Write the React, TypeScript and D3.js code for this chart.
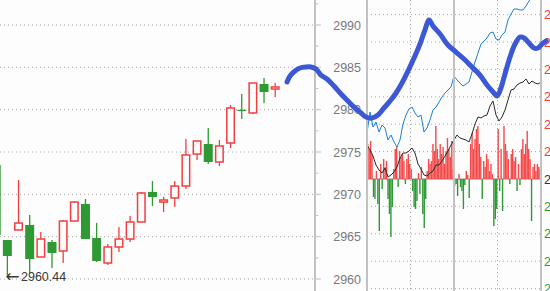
import React from "react";
import * as d3 from "d3";

// ---------- Left: daily candles ----------
const opens = [2973.46, 2964.61, 2965.79, 2966.38, 2962.6, 2964.37, 2963.31, 2966.85, 2968.86, 2964.84, 2961.89, 2963.78, 2964.72, 2966.73, 2970.28, 2969.09, 2969.57, 2970.98, 2974.76, 2975.94, 2973.82, 2976.06, 2979.98, 2979.61, 2983.03, 2982.44];
const highs = [2973.46, 2964.61, 2971.69, 2967.56, 2965.55, 2964.61, 2966.97, 2969.21, 2969.45, 2966.61, 2964.13, 2966.14, 2967.44, 2970.28, 2971.57, 2969.68, 2971.57, 2976.53, 2976.3, 2977.83, 2976.42, 2980.55, 2981.85, 2983.15, 2983.74, 2983.15];
const lows = [2965.2, 2960.44, 2965.79, 2960.71, 2962.6, 2961.3, 2961.89, 2966.85, 2964.72, 2962.01, 2961.65, 2963.19, 2964.37, 2966.73, 2968.62, 2967.91, 2968.5, 2970.63, 2974.05, 2973.58, 2973.35, 2975.47, 2978.9, 2979.49, 2980.79, 2981.49];
const closes = [2965.2, 2962.72, 2966.61, 2962.36, 2964.72, 2963.07, 2966.85, 2969.09, 2964.72, 2962.13, 2963.78, 2964.72, 2966.73, 2970.16, 2969.68, 2969.33, 2970.98, 2974.65, 2976.3, 2973.82, 2975.71, 2980.2, 2979.95, 2983.15, 2982.09, 2982.68];
const priceTicks = [2960, 2965, 2970, 2975, 2980, 2985, 2990];
const lowArrow = "←";
const lowValue = "2960.44";

// ---------- Thick blue projection line (candle index, price) ----------
const projIdx = [26.06, 26.33, 26.77, 27.22, 27.76, 28.21, 28.66, 29.1, 29.64, 30.27, 30.9, 31.52, 32.15, 32.69, 33.14, 33.67, 34.21, 34.75, 35.29, 35.83, 36.36, 36.9, 37.44, 37.97, 38.42, 38.78, 39.14, 39.77, 40.48, 41.2, 41.92, 42.63, 43.35, 43.98, 44.52, 44.88, 45.23, 45.59, 46.04, 46.49, 46.94, 47.3, 47.74, 48.19, 48.55, 48.91, 49.27];
const projPrice = [2983.27, 2983.98, 2984.57, 2984.92, 2985.04, 2985.04, 2984.8, 2984.09, 2983.62, 2982.79, 2981.85, 2981.02, 2980.2, 2979.61, 2979.13, 2979.01, 2979.37, 2980.2, 2981.02, 2981.97, 2983.15, 2984.57, 2986.1, 2987.75, 2989.41, 2990.59, 2989.88, 2988.94, 2987.64, 2986.81, 2985.98, 2985.04, 2984.09, 2982.91, 2982.09, 2981.61, 2982.56, 2984.21, 2986.22, 2987.75, 2988.58, 2988.46, 2987.87, 2987.28, 2987.28, 2987.75, 2988.11];

// ---------- Right: intraday ----------
const prevClose = 2972.0;
const gridStep = 2.74;
const intradayPrice = [2976.6, 2978.7, 2977.2, 2977.7, 2976.7, 2977.4, 2977.1, 2975.9, 2976.4, 2975.7, 2975.2, 2975.9, 2977.5, 2978.4, 2979.0, 2979.2, 2978.6, 2978.2, 2978.4, 2976.7, 2977.1, 2977.9, 2978.9, 2979.2, 2979.7, 2980.2, 2980.6, 2980.9, 2981.2, 2982.3, 2981.9, 2981.6, 2981.3, 2981.5, 2981.7, 2982.7, 2983.7, 2984.6, 2985.5, 2985.8, 2986.1, 2986.6, 2986.7, 2986.0, 2985.9, 2986.4, 2986.7, 2987.9, 2988.5, 2989.0, 2989.0, 2988.9, 2988.9, 2989.3, 2989.8, 2990.2, 2990.6, 2990.9, 2991.3];
const intradayAvg = [2975.4, 2974.9, 2974.3, 2973.4, 2972.9, 2972.6, 2973.1, 2972.2, 2972.4, 2972.7, 2973.2, 2974.1, 2974.6, 2974.6, 2974.8, 2975.1, 2974.6, 2973.5, 2973.0, 2972.4, 2972.3, 2972.6, 2972.8, 2973.4, 2973.4, 2973.8, 2974.3, 2974.8, 2975.4, 2975.9, 2976.4, 2976.1, 2976.0, 2975.9, 2975.7, 2976.5, 2977.5, 2978.2, 2978.1, 2978.3, 2978.4, 2979.3, 2979.8, 2978.4, 2977.8, 2978.2, 2978.9, 2979.9, 2980.9, 2981.0, 2981.4, 2981.6, 2981.7, 2982.0, 2981.5, 2981.8, 2981.6, 2981.5, 2981.7];
const flows = [35, 30, 38, 25, -18, -20, 8, -25, -52, 15, -10, 20, 12, 18, -20, -35, -58, -28, 10, 30, 33, -8, 28, 22, 25, 18, -5, 20, 25, 15, 10, -12, -28, -30, -22, 6, -15, 12, -35, -49, -20, 8, 20, 15, 18, 35, 28, 53, 30, 20, 35, 25, 32, 15, 28, 41, 30, 22, 38, 10, -7, -5, -17, 5, -8, -12, -30, -6, 8, 4, -19, 35, 46, 30, 40, 50, 53, 35, 22, -20, 18, 12, 25, 20, 8, 15, 5, -47, -40, -30, 50, -12, 30, -32, 53, 35, 28, 20, -5, 25, 30, 18, 22, -12, 15, -6, 30, 40, 25, 35, 48, 30, 20, -42, 12, 15, 8, 15, 12, 10];
const timeTicks = [0, 60, 120, 180, 240];

const RED = "#f23e3e";
const GREEN = "#2f9933";
const AXIS = "#c2c2c2";
const GRID = "#a8a8a8";
const FONT = "'Liberation Sans', Arial, sans-serif";

export default function App() {
  const W = 550, H = 291;
  const axisX = 315;
  const rL = 367, rR = 541;

  const yL = d3.scaleLinear().domain([2960, 2990]).range([279, 25]);
  const xC = d3.scaleLinear().domain([0, 25]).range([-3.8, 275.2]);

  const yR = d3.scaleLinear().domain([prevClose - 4 * gridStep, prevClose + 6 * gridStep]).range([288.6, 14.6]);
  const xT = d3.scaleLinear().domain([0, 240]).range([rL, rR]);
  const xI = d3.scaleLinear().domain([0, intradayPrice.length - 1]).range([rL, rR]);
  const xB = d3.scaleLinear().domain([0, 120]).range([rL, rR]);
  const yB = d3.scaleLinear().domain([-60, 60]).range([179 + 60, 179 - 60]);

  const gridPrices = d3.range(-4, 7).map((k) => prevClose + k * gridStep);

  const priceLine = d3.line<number>().x((_, i) => xI(i)).y((d) => yR(d));
  const projLine = d3
    .line<number>()
    .x((_, i) => xC(projIdx[i]))
    .y((d) => yL(d))
    .curve(d3.curveCatmullRom.alpha(0.5));

  const minorTicks = priceTicks.slice(0, -1).map((v) => v + 2.5).concat([2992.5]);
  const lowY = yL(2960.44) + 1.5;

  return (
    <svg
      width={W}
      height={H}
      viewBox={`0 0 ${W} ${H}`}
      style={{ position: "absolute", left: 0, top: 0, background: "#fdfdfd", display: "block" }}
    >
      <defs>
        <clipPath id="rclip">
          <rect x={rL} y={0} width={rR - rL} height={H} />
        </clipPath>
      </defs>

      {/* left dotted grid */}
      {priceTicks.map((v) => (
        <line key={"lg" + v} x1={0} x2={axisX} y1={yL(v)} y2={yL(v)} stroke={GRID} strokeWidth={1} strokeDasharray="1,3" />
      ))}

      {/* candles */}
      {opens.map((o, i) => {
        const c = closes[i];
        const up = c >= o;
        const cx = xC(i);
        const top = yL(Math.max(o, c));
        const bot = yL(Math.min(o, c));
        const col = up ? RED : GREEN;
        const hgt = Math.max(1.2, bot - top);
        return (
          <g key={"c" + i}>
            <line x1={cx} x2={cx} y1={yL(highs[i])} y2={yL(lows[i])} stroke={col} strokeWidth={1.3} />
            {up ? (
              <rect x={cx - 3.75} y={top} width={7.5} height={hgt} fill="#fdfdfd" stroke={col} strokeWidth={1.5} />
            ) : (
              <rect x={cx - 4.5} y={top} width={9} height={hgt} fill={col} />
            )}
          </g>
        );
      })}

      <text x={5.5} y={lowY} dy="0.33em" fontFamily="'DejaVu Sans', sans-serif" fontSize={17} fill="#3a3a3a">
        {lowArrow}
      </text>
      <text x={21} y={lowY} dy="0.36em" fontFamily={FONT} fontSize={12.5} fill="#3a3a3a">
        {lowValue}
      </text>

      {/* middle axis */}
      <line x1={axisX} x2={axisX} y1={0} y2={H} stroke={AXIS} strokeWidth={2} />
      {priceTicks.map((v) => (
        <line key={"mt" + v} x1={axisX} x2={axisX + 6} y1={yL(v)} y2={yL(v)} stroke={AXIS} strokeWidth={1} />
      ))}
      {minorTicks.map((v) => (
        <line key={"mn" + v} x1={axisX} x2={axisX + 3.5} y1={yL(v)} y2={yL(v)} stroke={AXIS} strokeWidth={1} />
      ))}
      {priceTicks.map((v) => (
        <text key={"ml" + v} x={361} y={yL(v)} dy="0.36em" textAnchor="end" fontFamily={FONT} fontSize={12.5} fill="#7a7a7a">
          {v}
        </text>
      ))}

      {/* right panel grid */}
      {gridPrices.map((p, k) =>
        Math.abs(p - prevClose) < 1e-6 ? (
          <line key={"rg" + k} x1={rL} x2={rR} y1={yR(p)} y2={yR(p)} stroke="#b0b0b0" strokeWidth={1.5} />
        ) : (
          <line key={"rg" + k} x1={rL} x2={rR} y1={yR(p)} y2={yR(p)} stroke={GRID} strokeWidth={1} strokeDasharray="1,3" />
        )
      )}
      {timeTicks.map((t, i) =>
        i % 2 === 1 ? (
          <line key={"vt" + t} x1={xT(t)} x2={xT(t)} y1={0} y2={H} stroke={GRID} strokeWidth={1} strokeDasharray="1,3" />
        ) : null
      )}

      <g clipPath="url(#rclip)">
        {flows.map((f, i) => (
          <rect
            key={"b" + i}
            x={xB(i)}
            y={f >= 0 ? yB(f) : yB(0)}
            width={1.4}
            height={Math.abs(yB(f) - yB(0))}
            fill={f >= 0 ? "#f54848" : GREEN}
          />
        ))}
        <path d={priceLine(intradayAvg) || ""} fill="none" stroke="#2a2a2a" strokeWidth={1} />
        <path d={priceLine(intradayPrice) || ""} fill="none" stroke="#1f7fdc" strokeWidth={1} />
      </g>

      {timeTicks.map((t, i) =>
        i % 2 === 0 ? (
          <line key={"vs" + t} x1={xT(t)} x2={xT(t)} y1={0} y2={H} stroke={AXIS} strokeWidth={2} />
        ) : null
      )}

      {gridPrices.map((p, k) => (
        <text
          key={"rl" + k}
          x={544}
          y={yR(p)}
          dy="0.36em"
          fontFamily={FONT}
          fontSize={12.5}
          fill={p > prevClose + 1e-6 ? "#ee3b3b" : p < prevClose - 1e-6 ? "#2f9933" : "#333"}
        >
          {p.toFixed(2)}
        </text>
      ))}

      {/* thick projection line */}
      <path
        d={projLine(projPrice) || ""}
        fill="none"
        stroke="#3c58d4"
        strokeWidth={5}
        strokeLinecap="round"
        strokeLinejoin="round"
      />
    </svg>
  );
}
